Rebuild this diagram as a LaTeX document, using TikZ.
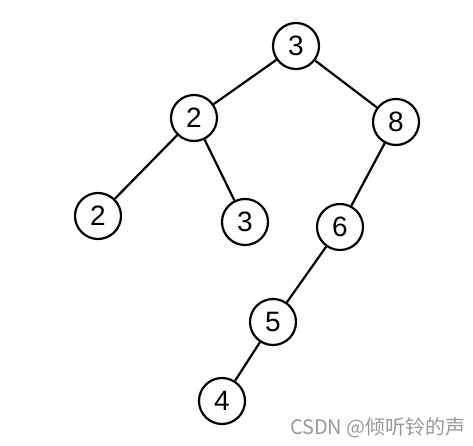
\documentclass[tikz,border=0pt]{standalone}
\usepackage{fontspec}
\setmainfont{Liberation Sans}
\newfontfamily\cjk{Noto Sans CJK SC}

\tikzset{
    key/.style={draw, circle, line width=2.2pt, minimum size=46pt, inner sep=0pt, font=\fontsize{28}{28}\selectfont},
    link/.style={line width=2.2pt}
}

\begin{document}
\begin{tikzpicture}[x=1pt, y=-1pt]
                    \useasboundingbox (0,0) rectangle (473,446);
                    \node[key] (root) at (296,46) {3};
                    \node[key] (l) at (194,118) {2};
                    \node[key] (r) at (396,122) {8};
                    \node[key] (ll) at (98,216) {2};
                    \node[key] (lr) at (245,222) {3};
                    \node[key] (rl) at (340,227) {6};
                    \node[key] (rll) at (273,322) {5};
                    \node[key] (rlll) at (222,401) {4};
                    \draw[link] (root) -- (l);
                    \draw[link] (root) -- (r);
                    \draw[link] (l) -- (ll);
                    \draw[link] (l) -- (lr);
                    \draw[link] (r) -- (rl);
                    \draw[link] (rl) -- (rll);
                    \draw[link] (rll) -- (rlll);
                    \node[anchor=east, text=black!40, inner sep=0pt, font=\fontsize{20}{20}\selectfont\cjk] (mark) at (466,428) {CSDN @倾听铃的声};
\end{tikzpicture}
\end{document}
